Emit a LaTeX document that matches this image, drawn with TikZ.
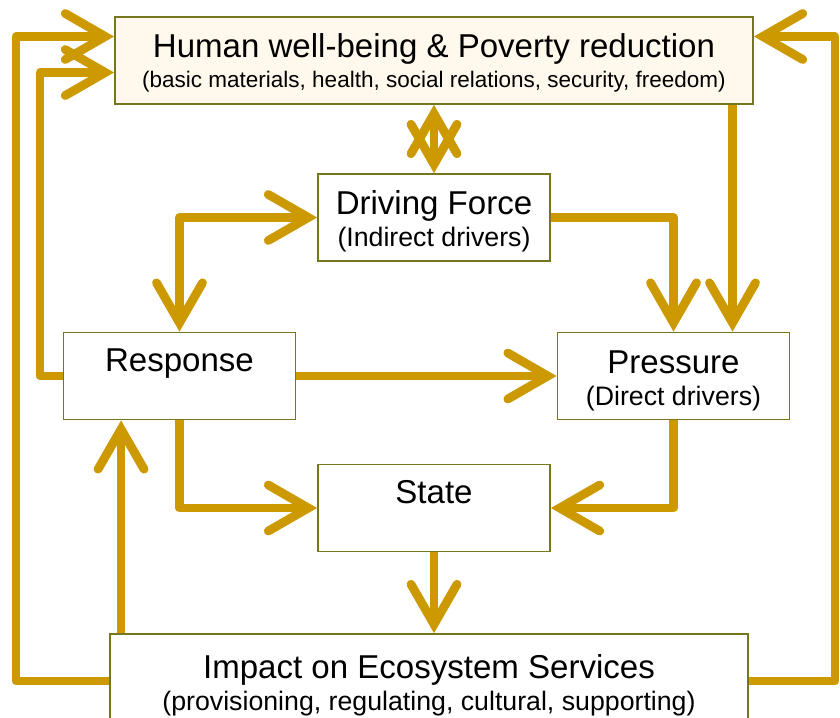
\documentclass[tikz,border=0pt]{standalone}
\usepackage{fontspec}
\setmainfont{Liberation Sans}
\usetikzlibrary{arrows.meta,calc}

\definecolor{gold}{RGB}{204,153,0}
\definecolor{boxline}{RGB}{118,118,30}
\definecolor{cream}{RGB}{255,248,236}

\newcommand{\maintxt}{\fontsize{23.5}{21.3}\selectfont}
\newcommand{\subtxt}{\fontsize{19}{21}\selectfont}
\newcommand{\toptxt}{\fontsize{16}{18}\selectfont}
\newcommand{\lift}[1]{\rule{0pt}{#1}}

\tikzset{
  box/.style={draw=boxline, line width=1.2pt, fill=white, inner sep=0pt,
    minimum width=5.8cm, minimum height=2.175cm, align=center, font=\maintxt},
  widebox/.style={box, minimum width=15.95cm},
  link/.style={draw=gold, line width=0.22cm, line join=round, ->},
}

\begin{document}
\begin{tikzpicture}[x=0.025cm,y=-0.025cm,
  >={Straight Barb[length=1cm,width=1.15cm,line cap=round,line join=miter]}]
   \useasboundingbox (0,0) rectangle (840,717);
   \clip (0,0) rectangle (840,717);

   % 箱
   \node[widebox, fill=cream] (hw) at (434,60.5)
     {\lift{20pt}Human well-being \& Poverty reduction\\[0pt]{\toptxt (basic materials, health, social relations, security, freedom)}};
   \node[box] (df) at (434,217.5) {\lift{23pt}Driving Force\\[1.5pt]{\subtxt (Indirect drivers)}};
   \node[box] (resp) at (179.5,376) {\lift{23pt}Response\\[1.5pt]{\subtxt\strut}};
   \node[box] (pres) at (673.5,376) {\lift{23pt}Pressure\\[1.5pt]{\subtxt (Direct drivers)}};
   \node[box] (state) at (434,508) {\lift{23pt}State\\[1.5pt]{\subtxt\strut}};
   \node[widebox, minimum height=2.35cm] (imp) at (429,681)
     {\lift{23pt}Impact on Ecosystem Services\\[1.5pt]{\subtxt (provisioning, regulating, cultural, supporting)}};

   % 矢印
   \coordinate (pin) at ($(pres.north)+(59,0)$);
   \coordinate (iup) at ($(imp.north west)+(12,0)$);
   \coordinate (hwa) at ($(hw.west)+(0,-24)$);
   \coordinate (hwb) at ($(hw.west)+(0,12)$);
   \coordinate (hwc) at ($(hw.east)+(0,-24)$);
   \coordinate (outl) at (16,0);
   \coordinate (inl) at (40,0);
   \coordinate (outr) at (835,0);

   \draw[link,<->] (hw.south) -- (df.north);
   \draw[link,<->] (resp.north) |- (df.west);
   \draw[link] (df.east) -| (pres.north);
   \draw[link] (hw.south -| pin) -- (pin);
   \draw[link] (resp.east) -- (pres.west);
   \draw[link] (resp.south) |- (state.west);
   \draw[link] (pres.south) |- (state.east);
   \draw[link] (state.south) -- (state.south |- imp.north);
   \draw[link] (iup) -- (iup |- resp.south);
   \draw[link] (imp.west) -| (outl |- hwa) -- (hwa);
   \draw[link] (resp.west) -| (inl |- hwb) -- (hwb);
   \draw[link] (imp.east) -| (outr |- hwc) -- (hwc);
\end{tikzpicture}
\end{document}
